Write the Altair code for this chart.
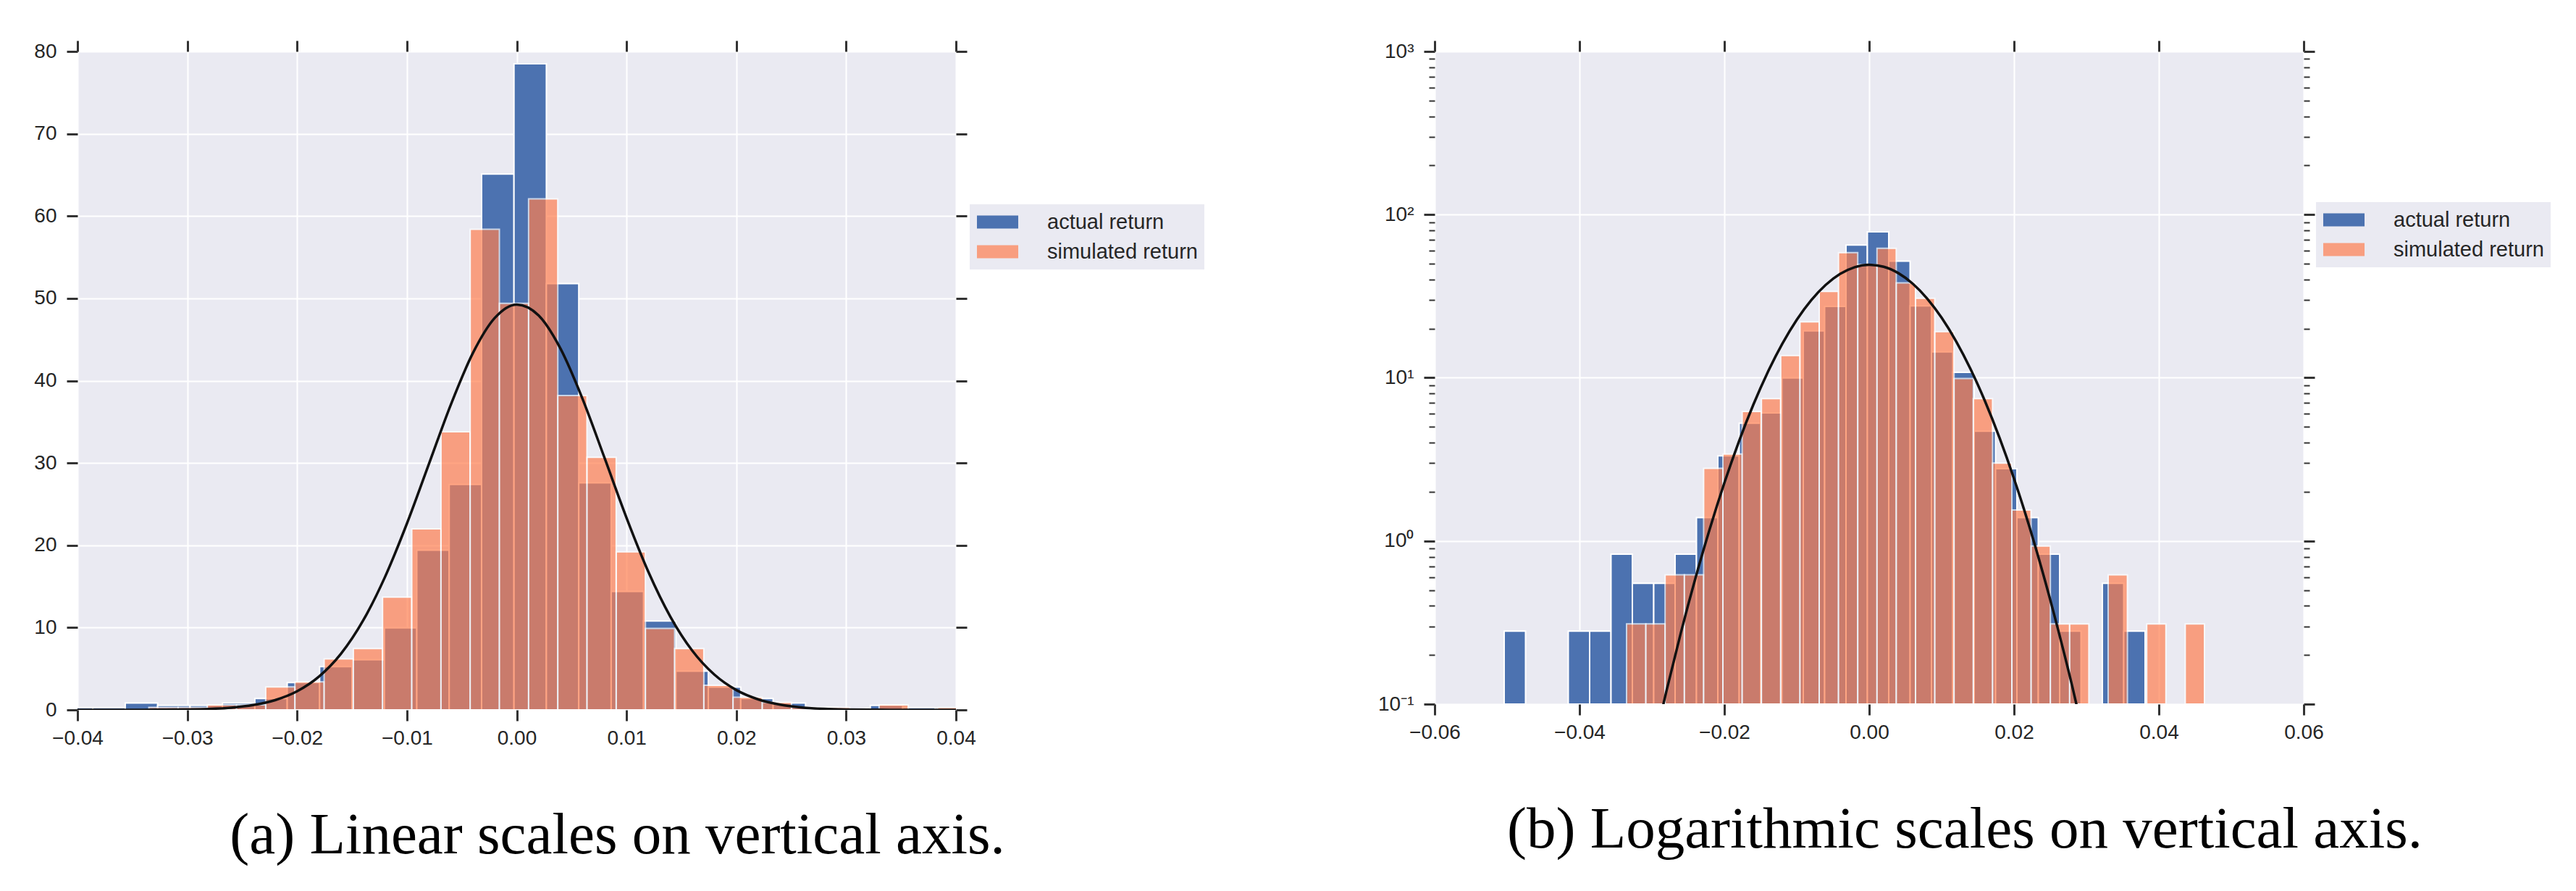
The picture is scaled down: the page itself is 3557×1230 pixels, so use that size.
import altair as alt
import numpy as np
import pandas as pd

# ---------------- data ----------------
series_names = ["actual return", "simulated return"]

# 30-bin density histograms (bin range + densities)
blue_lo, blue_hi = -0.0504, 0.0381
blue_density = [0.28, 0, 0, 0.28, 0.28, 0.83, 0.55, 0.55, 0.83, 1.39,
                3.32, 5.26, 6.09, 9.97, 19.4, 27.4, 65.1, 78.5, 51.8, 27.6,
                14.4, 10.8, 4.7, 2.77, 1.39, 0.83, 0.28, 0, 0.55, 0.28]

orange_lo, orange_hi = -0.0335, 0.0463
orange_density = [0.31, 0.31, 0.62, 0.62, 2.79, 3.41, 6.21, 7.45, 13.7, 22.0,
                  33.8, 58.4, 49.4, 62.1, 38.2, 30.7, 19.2, 9.9, 7.45, 3.0,
                  1.55, 0.93, 0.31, 0.31, 0, 0.62, 0, 0.31, 0, 0.31]

# fitted normal curve
curve_x = [-0.040, -0.038, -0.036, -0.034, -0.032, -0.030, -0.028, -0.026, -0.024, -0.022,
           -0.020, -0.018, -0.016, -0.014, -0.012, -0.010, -0.008, -0.006, -0.004, -0.002,
           0.000, 0.002, 0.004, 0.006, 0.008, 0.010, 0.012, 0.014, 0.016, 0.018,
           0.020, 0.022, 0.024, 0.026, 0.028, 0.030, 0.032, 0.034, 0.036, 0.038, 0.040]
curve_y = [0.000235, 0.000774, 0.0024, 0.00699, 0.0192, 0.0495, 0.120, 0.274, 0.589, 1.191,
           2.266, 4.056, 6.831, 10.83, 16.14, 22.64, 29.87, 37.09, 43.33, 47.62,
           49.25, 47.92, 43.86, 37.77, 30.61, 23.34, 16.74, 11.30, 7.17, 4.285,
           2.409, 1.274, 0.633, 0.296, 0.131, 0.0541, 0.0211, 0.00775, 0.00268, 0.000868, 0.000265]

lin_x_ticks = [-0.04, -0.03, -0.02, -0.01, 0.0, 0.01, 0.02, 0.03, 0.04]
lin_y_ticks = [0, 10, 20, 30, 40, 50, 60, 70, 80]
log_x_ticks = [-0.06, -0.04, -0.02, 0.0, 0.02, 0.04, 0.06]
log_y_ticks = [0.1, 0.2, 0.3, 0.4, 0.5, 0.6, 0.7, 0.8, 0.9,
               1, 2, 3, 4, 5, 6, 7, 8, 9,
               10, 20, 30, 40, 50, 60, 70, 80, 90,
               100, 200, 300, 400, 500, 600, 700, 800, 900, 1000]

caption_a = "(a) Linear scales on vertical axis."
caption_b = "(b) Logarithmic scales on vertical axis."

# ---------------- tables ----------------
def hist_table(lo, hi, dens, name):
    edges = np.linspace(lo, hi, len(dens) + 1)
    return pd.DataFrame({"x0": edges[:-1], "x1": edges[1:],
                         "density": dens, "series": name})

blue_df = hist_table(blue_lo, blue_hi, blue_density, series_names[0])
orange_df = hist_table(orange_lo, orange_hi, orange_density, series_names[1])
curve_df = pd.DataFrame({"x": curve_x, "y": curve_y})

BLUE = "#4C72B0"
CORAL = "#FF7F50"
BG = "#EAEAF2"
TXT = "#262626"
TICK = "#333333"

color_scale = alt.Scale(domain=series_names, range=[BLUE, CORAL])
opacity_scale = alt.Scale(domain=series_names, range=[1.0, 0.7])

DEC = "abs(log(datum.value)/LN10 - round(log(datum.value)/LN10)) < 0.000001"
LOG_LABELS = ("datum.value == 1000 ? '10³' : datum.value == 100 ? '10²' : "
              "datum.value == 10 ? '10¹' : datum.value == 1 ? '10⁰' : "
              "datum.value == 0.1 ? '10⁻¹' : ''")


def make_legend(lx, ly):
    return alt.Legend(
        orient="none", legendX=lx, legendY=ly, title=None,
        fillColor=BG, padding=9, cornerRadius=0,
        symbolType="M-1.966,-0.62H1.966V0.62H-1.966Z", symbolSize=841,
        symbolOffset=14, labelOffset=53, rowPadding=10,
        symbolStrokeColor="white", symbolStrokeWidth=1.5,
        labelFont="Liberation Sans", labelFontSize=29, labelColor=TXT,
        labelLimit=600,
    )


def panel(log, width, height, xdom, xticks, yticks, legend_xy, caption, cap_dx, top_pad_hack):
    xscale = alt.Scale(domain=xdom, nice=False, zero=False)
    if log:
        yscale = alt.Scale(type="log", domain=[0.1, 1000], nice=False)
        ybase = 0.1
        y_tick_size = {"condition": {"test": DEC, "value": 15}, "value": 8}
        y_tick_width = {"condition": {"test": DEC, "value": 3}, "value": 2}
        y_grid_op = {"condition": {"test": DEC, "value": 1}, "value": 0}
        y_label_kw = dict(labelExpr=LOG_LABELS)
    else:
        yscale = alt.Scale(domain=[0, 80], nice=False, zero=False)
        ybase = 0
        y_tick_size = 15
        y_tick_width = 3
        y_grid_op = 1
        y_label_kw = dict(format="d")

    legend = make_legend(*legend_xy)

    bdf = blue_df[blue_df.density > 0] if log else blue_df
    odf = orange_df[orange_df.density > 0] if log else orange_df

    blue = alt.Chart(bdf).mark_rect(stroke="white", strokeWidth=2, clip=True).encode(
        x=alt.X("x0:Q", scale=xscale,
                axis=alt.Axis(orient="bottom", values=xticks, format=".2f", title=None,
                              grid=True, labelPadding=10)),
        x2="x1:Q",
        y=alt.Y("density:Q", scale=yscale,
                axis=alt.Axis(orient="left", values=yticks, title=None, grid=True,
                              labelPadding=14, tickSize=y_tick_size, tickWidth=y_tick_width,
                              gridOpacity=y_grid_op, **y_label_kw)),
        y2=alt.datum(ybase),
        color=alt.Color("series:N", scale=color_scale, legend=legend),
        opacity=alt.Opacity("series:N", scale=opacity_scale, legend=legend),
    )

    if top_pad_hack:
        top_axis = alt.Axis(orient="top", values=xticks, title=None, grid=False,
                            labels=True, labelOpacity=0, labelFontSize=8, labelPadding=0,
                            format=".2f")
    else:
        top_axis = alt.Axis(orient="top", values=xticks, title=None, grid=False, labels=False)

    orange = alt.Chart(odf).mark_rect(stroke="white", strokeWidth=2, clip=True).encode(
        x=alt.X("x0:Q", scale=xscale, axis=top_axis),
        x2="x1:Q",
        y=alt.Y("density:Q", scale=yscale,
                axis=alt.Axis(orient="right", values=yticks, title=None, grid=False,
                              labels=False, tickSize=y_tick_size, tickWidth=y_tick_width)),
        y2=alt.datum(ybase),
        color=alt.Color("series:N", scale=color_scale, legend=legend),
        opacity=alt.Opacity("series:N", scale=opacity_scale, legend=legend),
    )

    line = alt.Chart(curve_df).mark_line(color="#111111", strokeWidth=3.5, clip=True,
                                         interpolate="monotone").encode(
        x=alt.X("x:Q", scale=xscale, axis=None),
        y=alt.Y("y:Q", scale=yscale, axis=None),
    )

    return alt.layer(blue, orange, line).resolve_axis(
        x="independent", y="independent"
    ).properties(
        width=width, height=height,
        title=alt.TitleParams(caption, orient="bottom", anchor="middle",
                              font="Liberation Serif", fontSize=81, fontWeight="normal",
                              color="black", baseline="alphabetic", offset=145, dx=cap_dx),
    )


left = panel(False, 1213, 909, [-0.04, 0.04], lin_x_ticks, lin_y_ticks,
             (1232, 211), caption_a, 139, False)
right = panel(True, 1200, 901, [-0.06, 0.06], log_x_ticks, log_y_ticks,
              (1217, 208), caption_b, 132, True)

chart = alt.hconcat(left, right, spacing=239).resolve_scale(
    color="independent", opacity="independent"
).configure_view(fill=BG, stroke=None).configure_axis(
    labelFont="Liberation Sans", labelFontSize=28, labelColor=TXT,
    tickColor=TICK, tickWidth=3, tickSize=15, domain=False,
    gridColor="white", gridWidth=2, labelFlush=False, labelOverlap=False,
).properties(
    padding={"left": 38, "top": 40, "right": 5, "bottom": 5},
    background="white",
)

chart.save("out.html", embed_options={"renderer": "svg", "actions": False})
